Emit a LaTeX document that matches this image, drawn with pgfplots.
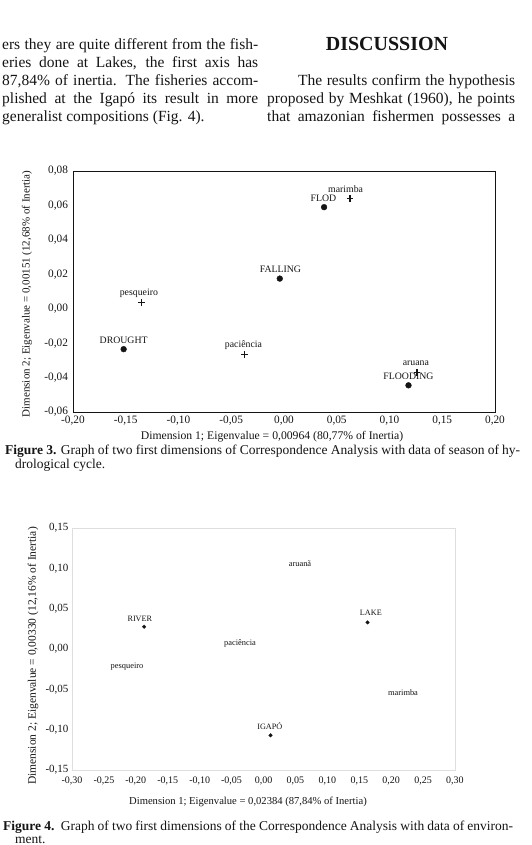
\documentclass[border=0pt]{standalone}
\usepackage{fontspec}
\setmainfont{Liberation Serif}
\usepackage{pgfplots}
\pgfplotsset{compat=1.18}
\usepackage{pgfplotstable}

\newcommand{\fs}[1]{\fontsize{#1}{#1}\selectfont}
\definecolor{ink}{gray}{0.08}

% Figure 3: seasons (dots) and species (plus)
\pgfplotstableread{
x y label dx dy
0.038 0.059 FLOD -0.7 9
-0.004 0.0175 FALLING 0.7 9.3
-0.152 -0.0235 DROUGHT 0 9
0.118 -0.0445 FLOODING 0 8.7
}\seasons
\pgfplotstableread{
x y label dx dy
0.0625 0.064 marimba -4.3 9
-0.135 0.0035 pesqueiro -2.7 9.3
-0.0375 -0.0265 paciência -1 9
0.126 -0.037 aruana -1 8.7
}\speciesA
% Figure 4: environments (dots) and species (labels only)
\pgfplotstableread{
x y label dx dy
-0.187 0.0276 RIVER -4.3 8.3
0.163 0.033 LAKE 3.3 9.7
0.011 -0.107 IGAPÓ -0.7 9
}\envs
\pgfplotstableread{
x y label
0.0572 0.1054 aruanã
-0.0368 0.0074 paciência
-0.2138 -0.0223 pesqueiro
0.2186 -0.0545 marimba
}\speciesB

\begin{document}
\begin{tikzpicture}
\useasboundingbox (0pt,0pt) rectangle (532pt,-845pt);

% ---- body text ----
\begin{scope}[every node/.style={inner sep=0pt, anchor=base west, text=ink, font=\fs{15.5}}]
\node at (2pt,-50pt) {\makebox[256pt][s]{ers they are quite different from the fish-}};
\node at (2pt,-68pt) {\makebox[256pt][s]{eries done at Lakes, the first axis has}};
\node at (2pt,-86pt) {\makebox[256pt][s]{87,84\% of inertia. The fisheries accom-}};
\node at (2pt,-104pt) {\makebox[256pt][s]{plished at the Igapó its result in more}};
\node at (2pt,-122pt) {generalist compositions (Fig. 4).};
\node at (298pt,-86pt) {\makebox[217pt][s]{The results confirm the hypothesis}};
\node at (267pt,-104pt) {\makebox[248pt][s]{proposed by Meshkat (1960), he points}};
\node at (267pt,-122pt) {\makebox[248pt][s]{that amazonian fishermen possesses a}};
\end{scope}
\node[inner sep=0pt, anchor=base, text=ink, font=\fs{20}\bfseries] at (387pt,-51pt) {DISCUSSION};

% ---- Figure 3 ----
\begin{axis}[
  at={(73pt,-412pt)}, anchor=south west,
  scale only axis, width=422pt, height=241pt,
  xmin=-0.2, xmax=0.2, ymin=-0.06, ymax=0.08,
  scaled x ticks=false, scaled y ticks=false,
  xtick={-0.2,-0.15,-0.1,-0.05,0,0.05,0.1,0.15,0.2},
  xticklabels={{-0,20},{-0,15},{-0,10},{-0,05},{0,00},{0,05},{0,10},{0,15},{0,20}},
  ytick={-0.06,-0.04,-0.02,0,0.02,0.04,0.06,0.08},
  yticklabels={{-0,06},{-0,04},{-0,02},{0,00},{0,02},{0,04},{0,06},{0,08}},
  major tick length=0pt,
  tick label style={font=\fs{11.3}, text=ink},
  yticklabel style={xshift=-1.5pt},
  axis line style={ink, line width=0.9pt},
  xlabel={Dimension 1; Eigenvalue = 0,00964 (80,77\% of Inertia)},
  ylabel={Dimension 2; Eigenvalue = 0,00151 (12,68\% of Inertia)},
  xlabel style={at={(axis description cs:0.4716,-0.1037)}, anchor=center, font=\fs{11.7}, text=ink},
  ylabel style={at={(axis description cs:-0.109,0.49)}, anchor=center, font=\fs{11}, text=ink},
  clip=false,
]
\addplot[only marks, mark=*, mark size=2.9pt, ink,
  nodes near coords, point meta=explicit symbolic,
  visualization depends on={\thisrow{dx}\as\dx},
  visualization depends on={\thisrow{dy}\as\dy},
  every node near coord/.style={font=\fs{9.8}, text=ink, anchor=center, inner sep=0pt, xshift=\dx pt, yshift=\dy pt}]
  table[x=x, y=y, meta=label]{\seasons};
\addplot[only marks, mark=+, mark size=3.4pt, line width=1.2pt, ink,
  nodes near coords, point meta=explicit symbolic,
  visualization depends on={\thisrow{dx}\as\dx},
  visualization depends on={\thisrow{dy}\as\dy},
  every node near coord/.style={font=\fs{9.8}, text=ink, anchor=center, inner sep=0pt, xshift=\dx pt, yshift=\dy pt}]
  table[x=x, y=y, meta=label]{\speciesA};
\end{axis}

\begin{scope}[every node/.style={inner sep=0pt, anchor=base west, text=ink, font=\fs{13.5}}]
\node at (5pt,-454pt) {\makebox[515pt][s]{\textbf{Figure 3.} Graph of two first dimensions of Correspondence Analysis with data of season of hy-}};
\node at (15pt,-468pt) {drological cycle.};
\node at (3pt,-830pt) {\makebox[510pt][s]{\textbf{Figure 4.}\ \ Graph of two first dimensions of the Correspondence Analysis with data of environ-}};
\node at (15pt,-843pt) {ment.};
\end{scope}

% ---- Figure 4 ----
\begin{axis}[
  at={(72pt,-770pt)}, anchor=south west,
  scale only axis, width=383pt, height=242pt,
  xmin=-0.3, xmax=0.3, ymin=-0.15, ymax=0.15,
  scaled x ticks=false, scaled y ticks=false,
  xtick={-0.3,-0.25,-0.2,-0.15,-0.1,-0.05,0,0.05,0.1,0.15,0.2,0.25,0.3},
  xticklabels={{-0,30},{-0,25},{-0,20},{-0,15},{-0,10},{-0,05},{0,00},{0,05},{0,10},{0,15},{0,20},{0,25},{0,30}},
  ytick={-0.15,-0.1,-0.05,0,0.05,0.1,0.15},
  yticklabels={{-0,15},{-0,10},{-0,05},{0,00},{0,05},{0,10},{0,15}},
  major tick length=0pt,
  xticklabel style={font=\fs{10}, text=ink, yshift=-3pt},
  yticklabel style={font=\fs{11}, text=ink},
  axis line style={black!13, line width=0.9pt},
  xlabel={Dimension 1; Eigenvalue = 0,02384 (87,84\% of Inertia)},
  ylabel={Dimension 2; Eigenvalue = 0,00330 (12,16\% of Inertia)},
  xlabel style={at={(axis description cs:0.4595,-0.132)}, anchor=center, font=\fs{10.6}, text=ink},
  ylabel style={at={(axis description cs:-0.1018,0.471)}, anchor=center, font=\fs{11.5}, text=ink},
  clip=false,
]
\addplot[only marks, mark=*, mark size=1.8pt, ink,
  nodes near coords, point meta=explicit symbolic,
  visualization depends on={\thisrow{dx}\as\dx},
  visualization depends on={\thisrow{dy}\as\dy},
  every node near coord/.style={font=\fs{8.2}, text=ink, anchor=center, inner sep=0pt, xshift=\dx pt, yshift=\dy pt}]
  table[x=x, y=y, meta=label]{\envs};
\addplot[only marks, mark=*, mark size=0.01pt, draw=none, fill=none,
  mark options={draw=none, fill=none},
  nodes near coords, point meta=explicit symbolic,
  every node near coord/.style={font=\fs{8.4}, text=ink, anchor=center, inner sep=0pt}]
  table[x=x, y=y, meta=label]{\speciesB};
\end{axis}
\end{tikzpicture}
\end{document}
